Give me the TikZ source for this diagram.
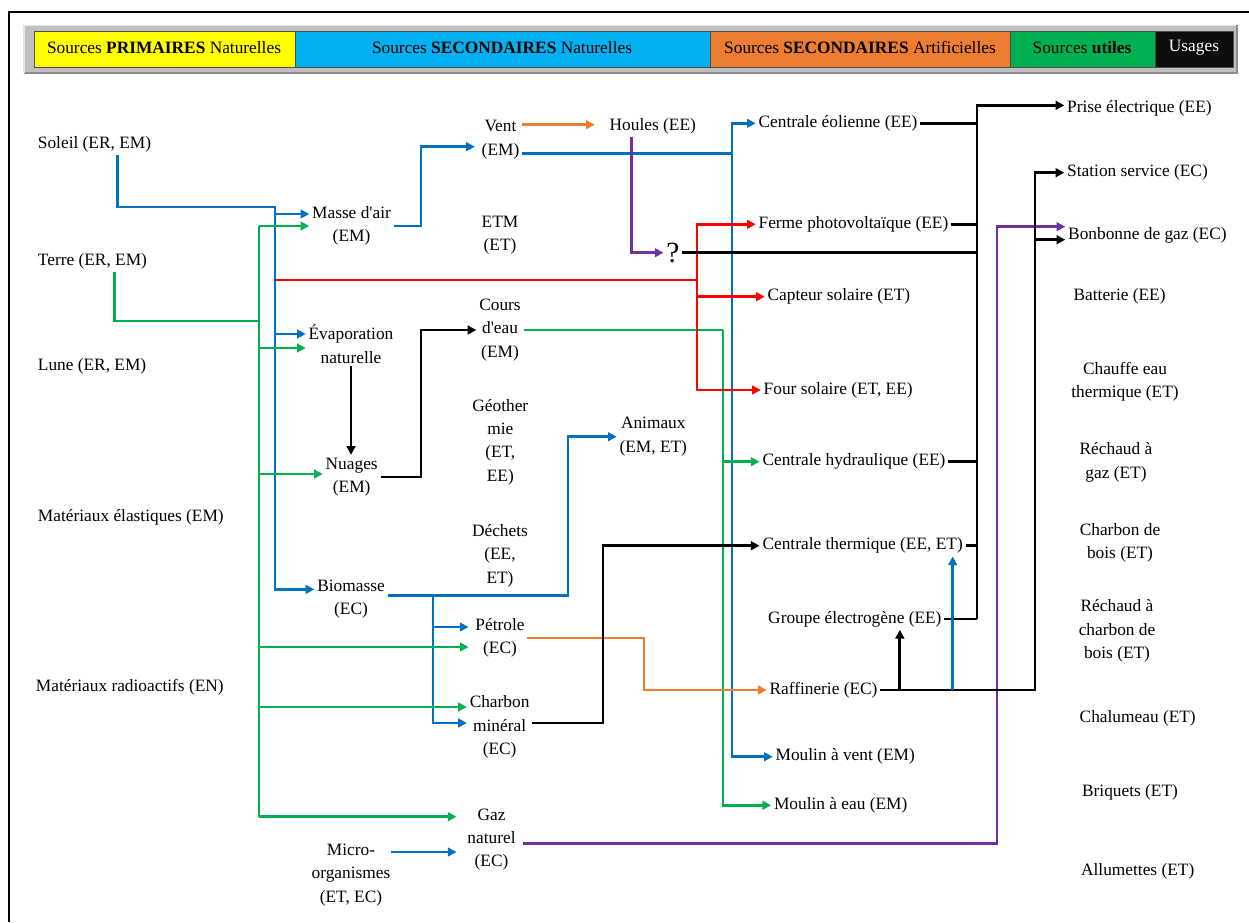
\documentclass[tikz,border=0pt]{standalone}
\usepackage{fontspec}
\setmainfont{Liberation Serif}
\usetikzlibrary{arrows.meta,calc}
\definecolor{lblue}{RGB}{0,112,192}
\definecolor{lgreen}{RGB}{0,176,80}
\definecolor{lred}{RGB}{255,0,0}
\definecolor{lorange}{RGB}{237,125,49}
\definecolor{lpurple}{RGB}{112,48,160}
\definecolor{hyellow}{RGB}{255,255,0}
\definecolor{hblue}{RGB}{0,176,240}
\definecolor{horange}{RGB}{237,125,49}
\definecolor{hgreen}{RGB}{0,176,80}
\definecolor{hblack}{RGB}{13,13,13}
\definecolor{hgray}{RGB}{192,192,192}
\tikzset{
	lbl/.style={font=\fontsize{13}{17.5}\selectfont, inner sep=2pt, align=center},
	wire/.style={line width=2.2pt},
	bl/.style={wire, draw=lblue},
	gr/.style={wire, draw=lgreen},
	rd/.style={wire, draw=lred},
	og/.style={wire, draw=lorange},
	pu/.style={wire, draw=lpurple},
	bk/.style={wire, draw=black},
}

\begin{document}
\begin{tikzpicture}[x=0.75pt, y=-0.75pt, >={Triangle[length=6.5pt,width=6.5pt]}]
	\fill[white] (0,0) rectangle (1249,922);
	\useasboundingbox (0,0) rectangle (1249,922);

	% frame
	\draw[line width=2.2pt] (9,922) -- (9,12) -- (1249,12);

	% --- header bar ---
	\fill[hgray] (24,25) rectangle (1237,74);
	\draw[black!45, line width=1.5pt] (24,73) -- (1237,73) -- (1237,25);
	\draw[white!80!gray, line width=1pt] (24,73) -- (24,25.5) -- (1236,25.5);
	\foreach \xa/\xb/\c in {34/295/hyellow, 295/710/hblue, 710/1010/horange, 1010/1155/hgreen, 1155/1233/hblack}
		\filldraw[fill=\c, draw=black!70, line width=0.6pt] (\xa,31) rectangle (\xb,67);
	\node[lbl] (hprim) at (164,47.5) {Sources \textbf{PRIMAIRES} Naturelles};
	\node[lbl] (hsecn) at (502,47.5) {Sources \textbf{SECONDAIRES} Naturelles};
	\node[lbl] (hseca) at (860,47.5) {Sources \textbf{SECONDAIRES} Artificielles};
	\node[lbl] (hutil) at (1082,47.5) {Sources \textbf{utiles}};
	\node[lbl, text=white] (husag) at (1194,47.5) {Usages};

	% --- primary sources ---
	\node[lbl, anchor=west] (soleil) at (35,144) {Soleil (ER, EM)};
	\node[lbl, anchor=west] (terre) at (35,261) {Terre (ER, EM)};
	\node[lbl, anchor=west] (lune) at (35,366) {Lune (ER, EM)};
	\node[lbl, anchor=west] (elast) at (35,517) {Matériaux élastiques (EM)};
	\node[lbl, anchor=west] (radio) at (33,687) {Matériaux radioactifs (EN)};

	% --- secondary natural sources ---
	\node[lbl] (masse) at (351.5,226) {Masse d\textquotesingle air\\(EM)};
	\node[lbl] (evap) at (351,344) {Évaporation\\naturelle};
	\node[lbl] (nuages) at (351.7,477) {Nuages\\(EM)};
	\node[lbl] (biomasse) at (351,599.4) {Biomasse\\(EC)};
	\node[lbl] (micro) at (351,875) {Micro-\\organismes\\(ET, EC)};
	\node[lbl] (vent) at (500.5,139.7) {Vent\\(EM)};
	\node[lbl] (etm) at (500,235) {ETM\\(ET)};
	\node[lbl] (cours) at (500,330) {Cours\\d\textquotesingle eau\\(EM)};
	\node[lbl] (geo) at (500.3,442) {Géother\\mie\\(ET,\\EE)};
	\node[lbl] (dechets) at (500,555.7) {Déchets\\(EE,\\ET)};
	\node[lbl] (petrole) at (500,638) {Pétrole\\(EC)};
	\node[lbl] (charbon) at (499.6,727) {Charbon\\minéral\\(EC)};
	\node[lbl] (gaz) at (491.5,839.7) {Gaz\\naturel\\(EC)};
	\node[lbl] (houles) at (652.8,126.7) {Houles (EE)};
	\node[lbl] (animaux) at (653.3,436.7) {Animaux\\(EM, ET)};
	\node[lbl, font=\fontsize{22}{24}\selectfont] (q) at (673,252.7) {?};

	% --- useful sources ---
	\node[lbl, anchor=west] (eol) at (755.7,123.3) {Centrale éolienne (EE)};
	\node[lbl, anchor=west] (pv) at (755.7,224.3) {Ferme photovoltaïque (EE)};
	\node[lbl, anchor=west] (capteur) at (764.7,296.7) {Capteur solaire (ET)};
	\node[lbl, anchor=west] (four) at (760.8,390) {Four solaire (ET, EE)};
	\node[lbl, anchor=west] (hydro) at (759.6,461.7) {Centrale hydraulique (EE)};
	\node[lbl, anchor=west] (thermique) at (759.6,545.7) {Centrale thermique (EE, ET)};
	\node[lbl, anchor=west] (groupe) at (765.3,619) {Groupe électrogène (EE)};
	\node[lbl, anchor=west] (raff) at (766.6,690) {Raffinerie (EC)};
	\node[lbl, anchor=west] (mvent) at (772.7,756.7) {Moulin à vent (EM)};
	\node[lbl, anchor=west] (meau) at (771.1,805.3) {Moulin à eau (EM)};

	% --- usages ---
	\node[lbl, anchor=west] (prise) at (1064.3,108.3) {Prise électrique (EE)};
	\node[lbl, anchor=west] (station) at (1064.3,172.7) {Station service (EC)};
	\node[lbl, anchor=west] (bonbonne) at (1065.3,235.7) {Bonbonne de gaz (EC)};
	\node[lbl] (batterie) at (1119.6,296.7) {Batterie (EE)};
	\node[lbl] (chauffe) at (1125,382) {Chauffe eau\\thermique (ET)};
	\node[lbl] (rechgaz) at (1116,462.3) {Réchaud à\\gaz (ET)};
	\node[lbl] (charbois) at (1120,543) {Charbon de\\bois (ET)};
	\node[lbl] (rechcharb) at (1117,631) {Réchaud à\\charbon de\\bois (ET)};
	\node[lbl] (chalumeau) at (1137.7,718.3) {Chalumeau (ET)};
	\node[lbl] (briquets) at (1130,792.7) {Briquets (ET)};
	\node[lbl] (allumettes) at (1137.7,871) {Allumettes (ET)};

	% --- end points and junctions ---
	\coordinate (soleil-o) at ($(soleil.south)+(23,0)$);
	\coordinate (terre-o) at ($(terre.south)+(22,0)$);
	\coordinate (vent-o) at ($(vent.east)+(0,-15)$);
	\coordinate (vent-e) at ($(vent.east)+(0,14)$);
	\coordinate (houles-s) at ($(houles.south)+(-21,0)$);
	\coordinate (bio-o) at ($(biomasse.east)+(0,-4)$);
	\coordinate (charb-o) at ($(charbon.east)+(0,-4)$);
	\coordinate (micro-o) at ($(micro.east)+(-2,-23)$);
	\coordinate (gaz-o) at ($(gaz.east)+(4,4)$);

	\coordinate (masse-b) at ($(masse.west)+(0,-12)$);
	\coordinate (evap-b) at ($(evap.west)+(0,-10)$);
	\coordinate (evap-g) at ($(evap.west)+(0,4)$);
	\coordinate (bio-b) at ($(biomasse.west)+(0,-10)$);
	\coordinate (nuages-g) at ($(nuages.west)+(0,-3)$);
	\coordinate (pet-b) at ($(petrole.west)+(-4,-11)$);
	\coordinate (pet-g) at ($(petrole.west)+(-4,9)$);
	\coordinate (charb-g) at ($(charbon.west)+(0,-20)$);
	\coordinate (charb-b) at ($(charbon.west)+(0,-4)$);
	\coordinate (gaz-g) at ($(gaz.west)+(-8,-23)$);
	\coordinate (gaz-b) at ($(gaz.west)+(-8,12)$);
	\coordinate (vent-b) at ($(vent.west)+(-4,7)$);
	\coordinate (houles-w) at ($(houles.west)+(-12,0)$);
	\coordinate (prise-k) at ($(prise.west)+(0,-3)$);
	\coordinate (bon-k) at ($(bonbonne.west)+(0,4)$);
	\coordinate (bon-p) at ($(bonbonne.west)+(0,-9)$);

	\coordinate (bT) at (275,207);
	\coordinate (gT) at (259,321);
	\coordinate (rJ) at (697,280);
	\coordinate (bV) at (421,0);
	\coordinate (bE) at (732,0);
	\coordinate (bA) at (568,0);
	\coordinate (bB) at (433,0);
	\coordinate (bR) at ($(thermique.south)+(90,0)$);
	\coordinate (gE) at (723,0);
	\coordinate (oR) at (644,0);
	\coordinate (pB) at (997,0);
	\coordinate (kN) at (421,0);
	\coordinate (kC) at (603,0);
	\coordinate (kT) at (977,0);
	\coordinate (kS) at (1035,0);
	\coordinate (kG) at ($(groupe.south)+(45,0)$);

	% --- blue links ---
	\draw[bl,->] (soleil-o) |- (bT) |- (bio-b);
	\draw[bl,->] (bT |- masse-b) -- (masse-b);
	\draw[bl,->] (bT |- evap-b) -- (evap-b);
	\draw[bl,->] (masse.east) -| (bV |- vent-b) -- (vent-b);
	\draw[bl] (vent-e) -- (bE |- vent-e);
	\draw[bl,->] (bE |- vent-e) |- (eol.west);
	\draw[bl,->] (bE |- vent-e) |- (mvent.west);
	\draw[bl,->] (bio-o) -| (bA |- animaux.west) -- (animaux.west);
	\draw[bl,->] (bB |- bio-o) |- (charb-b);
	\draw[bl,->] (bB |- pet-b) -- (pet-b);
	\draw[bl,->] (micro-o) -- (micro-o -| gaz-b);

	% --- green links ---
	\draw[gr] (terre-o) |- (gT);
	\draw[gr] (gT |- masse.west) -- (gT |- gaz-g);
	\foreach \p in {masse.west, evap-g, nuages-g, pet-g, charb-g, gaz-g}
		\draw[gr,->] (gT |- \p) -- (\p);
	\draw[gr] (cours.east) -- (gE |- cours.east);
	\draw[gr,->] (gE |- cours.east) |- (meau.west);
	\draw[gr,->] (gE |- hydro.west) -- (hydro.west);

	% --- red links ---
	\draw[rd] (bT |- rJ) -- (rJ);
	\foreach \p in {pv, capteur, four}
		\draw[rd,->] (rJ) |- (\p.west);

	% --- orange links ---
	\draw[og,->] (vent-o) -- (vent-o -| houles-w);
	\draw[og,->] (petrole.east) -| (oR |- raff.west) -- (raff.west);

	% --- purple links ---
	\draw[pu,->] (houles-s) |- (q.west);
	\draw[pu,->] (gaz-o) -| (pB |- bon-p) -- (bon-p);

	% --- black links ---
	\draw[bk,->] (evap.south) -- (evap.south |- nuages.north);
	\draw[bk,->] (nuages.east) -| (kN |- cours.west) -- (cours.west);
	\draw[bk,->] (charb-o) -| (kC |- thermique.west) -- (thermique.west);
	\draw[bk] (q.east) -- (kT |- q.east);
	\foreach \p in {eol, pv, hydro, thermique, groupe}
		\draw[bk] (\p.east) -- (kT |- \p.east);
	\draw[bk,->] (kT |- groupe.east) |- (prise-k);
	\draw[bk,->] (raff.east) -| (kS |- station.west) -- (station.west);
	\draw[bk,->] (kS |- bon-k) -- (bon-k);
	\draw[bk,->] (kG |- raff.east) -- (kG);
	\draw[bl,->] (bR |- raff.east) -- (bR);

\end{tikzpicture}
\end{document}
